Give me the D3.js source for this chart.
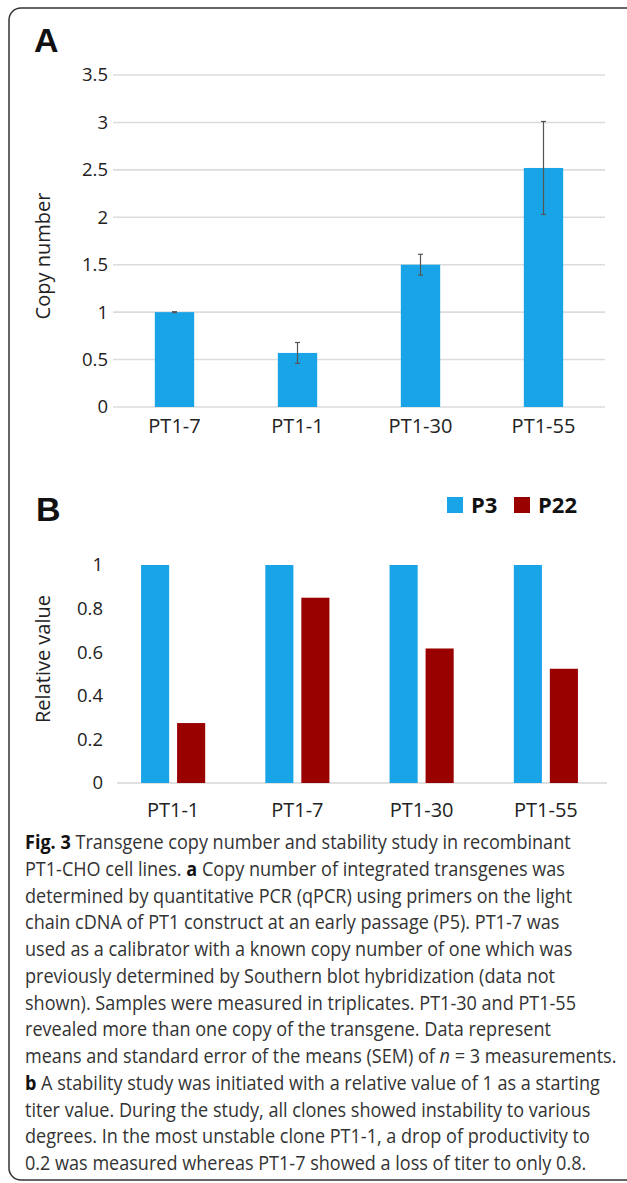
<!DOCTYPE html>
<html>
<head>
<meta charset="utf-8">
<script src="https://cdn.jsdelivr.net/npm/d3@7"></script>
<style>
  body { margin: 0; background: #fff; }
  text { font-family: "Open Sans", sans-serif; fill: #222; }
</style>
</head>
<body>
<svg id="fig"></svg>
<script>
// panel A data
const catsA = ["PT1-7", "PT1-1", "PT1-30", "PT1-55"];
const copyNumber = [1.0, 0.57, 1.5, 2.52];
const copyErr = [0.005, 0.11, 0.11, 0.49];
const ticksA = [0, 0.5, 1, 1.5, 2, 2.5, 3, 3.5];

// panel B data
const catsB = ["PT1-1", "PT1-7", "PT1-30", "PT1-55"];
const seriesB = ["P3", "P22"];
const p3 = [1, 1, 1, 1];
const p22 = [0.275, 0.85, 0.617, 0.524];
const ticksB = [0, 0.2, 0.4, 0.6, 0.8, 1];

const colors = { P3: "#19a4e8", P22: "#990000" };

const W = 627, H = 1183;
const svg = d3.select("#fig").attr("width", W).attr("height", H);

// frame
svg.append("rect")
  .attr("x", 9).attr("y", 8)
  .attr("width", W + 20).attr("height", 1172)
  .attr("rx", 12)
  .attr("fill", "none")
  .attr("stroke", "#333")
  .attr("stroke-width", 1.5);

// ---------- panel A ----------
svg.append("text")
  .attr("x", 34).attr("y", 52)
  .style("font-family", "Liberation Sans, Arial, sans-serif")
  .style("font-weight", "bold")
  .style("font-size", "34px")
  .style("fill", "#111")
  .text("A");

const xA = d3.scaleBand().domain(catsA).range([113, 605]).paddingInner(0.68).paddingOuter(0.34);
const yA = d3.scaleLinear().domain([0, 3.5]).range([407, 75]);

const gA = svg.append("g");

gA.append("g")
  .selectAll("line")
  .data(ticksA)
  .enter()
  .append("line")
  .attr("x1", 113).attr("x2", 605)
  .attr("y1", (d) => yA(d)).attr("y2", (d) => yA(d))
  .attr("stroke", "#dcdcdc")
  .attr("stroke-width", 1.6);

gA.append("g")
  .attr("transform", "translate(113,0)")
  .call(d3.axisLeft(yA).tickValues(ticksA).tickSize(0).tickPadding(5).tickFormat((d) => String(d)))
  .call((g) => g.select(".domain").remove())
  .selectAll("text")
  .style("font-size", "18.5px")
  .style("font-family", "Open Sans, sans-serif")
  .style("fill", "#222");

gA.append("g")
  .selectAll("rect")
  .data(catsA)
  .enter()
  .append("rect")
  .attr("x", (d) => xA(d))
  .attr("y", (d, i) => yA(copyNumber[i]))
  .attr("width", xA.bandwidth())
  .attr("height", (d, i) => yA(0) - yA(copyNumber[i]))
  .attr("fill", colors.P3);

// error bars
const eb = gA.append("g")
  .selectAll("g")
  .data(catsA)
  .enter()
  .append("g")
  .attr("stroke", "#555")
  .attr("stroke-width", 1.2);

eb.append("line")
  .attr("x1", (d) => xA(d) + xA.bandwidth() / 2)
  .attr("x2", (d) => xA(d) + xA.bandwidth() / 2)
  .attr("y1", (d, i) => yA(copyNumber[i] - copyErr[i]))
  .attr("y2", (d, i) => yA(copyNumber[i] + copyErr[i]));

[-1, 1].forEach((s) => {
  eb.append("line")
    .attr("x1", (d) => xA(d) + xA.bandwidth() / 2 - 2.5)
    .attr("x2", (d) => xA(d) + xA.bandwidth() / 2 + 2.5)
    .attr("y1", (d, i) => yA(copyNumber[i] + s * copyErr[i]))
    .attr("y2", (d, i) => yA(copyNumber[i] + s * copyErr[i]));
});

gA.append("g")
  .attr("transform", "translate(0,407)")
  .call(d3.axisBottom(xA).tickSize(0).tickPadding(12))
  .call((g) => g.select(".domain").remove())
  .selectAll("text")
  .style("font-size", "20px")
  .style("font-family", "Open Sans, sans-serif")
  .style("fill", "#222");

svg.append("text")
  .attr("transform", "translate(50,256) rotate(-90)")
  .attr("text-anchor", "middle")
  .style("font-size", "20px")
  .text("Copy number");

// ---------- panel B ----------
svg.append("text")
  .attr("x", 36).attr("y", 521)
  .style("font-family", "Liberation Sans, Arial, sans-serif")
  .style("font-weight", "bold")
  .style("font-size", "34px")
  .style("fill", "#111")
  .text("B");

const x0 = d3.scaleBand().domain(catsB).range([111, 608]).paddingInner(0.484).paddingOuter(0.242);
const x1 = d3.scaleBand().domain(seriesB).range([0, x0.bandwidth()]).paddingInner(0.22);
const yB = d3.scaleLinear().domain([0, 1]).range([783, 565]);

const gB = svg.append("g");

gB.append("line")
  .attr("x1", 117).attr("x2", 607)
  .attr("y1", yB(0)).attr("y2", yB(0))
  .attr("stroke", "#d6d6d6")
  .attr("stroke-width", 1.6);

gB.append("g")
  .attr("transform", "translate(108,0)")
  .call(d3.axisLeft(yB).tickValues(ticksB).tickSize(0).tickPadding(5).tickFormat((d) => String(d)))
  .call((g) => g.select(".domain").remove())
  .selectAll("text")
  .style("font-size", "18.5px")
  .style("font-family", "Open Sans, sans-serif")
  .style("fill", "#222");

const valuesB = { P3: p3, P22: p22 };

const groups = gB.selectAll(".grp")
  .data(catsB)
  .enter()
  .append("g")
  .attr("class", "grp")
  .attr("transform", (d) => `translate(${x0(d)},0)`);

groups.selectAll("rect")
  .data((d, i) => seriesB.map((s) => ({ key: s, value: valuesB[s][i] })))
  .enter()
  .append("rect")
  .attr("x", (d) => x1(d.key))
  .attr("y", (d) => yB(d.value))
  .attr("width", x1.bandwidth())
  .attr("height", (d) => yB(0) - yB(d.value))
  .attr("fill", (d) => colors[d.key]);

gB.append("g")
  .attr("transform", "translate(0,783)")
  .call(d3.axisBottom(x0).tickSize(0).tickPadding(20))
  .call((g) => g.select(".domain").remove())
  .selectAll("text")
  .style("font-size", "20px")
  .style("font-family", "Open Sans, sans-serif")
  .style("fill", "#222");

svg.append("text")
  .attr("transform", "translate(50,659) rotate(-90)")
  .attr("text-anchor", "middle")
  .style("font-size", "20px")
  .text("Relative value");

// legend
const legendX = [447, 514];
const legend = svg.selectAll(".legend")
  .data(seriesB)
  .enter()
  .append("g")
  .attr("class", "legend")
  .attr("transform", (d, i) => `translate(${legendX[i]},497)`);

legend.append("rect")
  .attr("width", 16).attr("height", 16)
  .attr("fill", (d) => colors[d]);

legend.append("text")
  .attr("x", 24).attr("y", 16)
  .style("font-size", "22px")
  .style("font-weight", "bold")
  .style("fill", "#111")
  .text((d) => d);

// ---------- caption ----------
const caption = [
  [["b", "Fig. 3"], ["", " Transgene copy number and stability study in recombinant"]],
  [["", "PT1-CHO cell lines. "], ["b", "a"], ["", " Copy number of integrated transgenes was"]],
  [["", "determined by quantitative PCR (qPCR) using primers on the light"]],
  [["", "chain cDNA of PT1 construct at an early passage (P5). PT1-7 was"]],
  [["", "used as a calibrator with a known copy number of one which was"]],
  [["", "previously determined by Southern blot hybridization (data not"]],
  [["", "shown). Samples were measured in triplicates. PT1-30 and PT1-55"]],
  [["", "revealed more than one copy of the transgene. Data represent"]],
  [["", "means and standard error of the means (SEM) of "], ["i", "n"], ["", " = 3 measurements."]],
  [["b", "b"], ["", " A stability study was initiated with a relative value of 1 as a starting"]],
  [["", "titer value. During the study, all clones showed instability to various"]],
  [["", "degrees. In the most unstable clone PT1-1, a drop of productivity to"]],
  [["", "0.2 was measured whereas PT1-7 showed a loss of titer to only 0.8."]]
];

const cap = svg.append("g").style("font-size", "19.5px");
const lines = cap.selectAll("text")
  .data(caption)
  .enter()
  .append("text")
  .style("fill", "#333");

lines.selectAll("tspan")
  .data((d) => d)
  .enter()
  .append("tspan")
  .style("font-weight", (d) => (d[0] === "b" ? "bold" : null))
  .style("font-style", (d) => (d[0] === "i" ? "italic" : null))
  .style("fill", (d) => (d[0] === "b" ? "#111" : null))
  .text((d) => d[1]);

// narrow the glyphs so the longest line spans the reference width
const k = 592 / d3.max(lines.nodes(), (n) => n.getComputedTextLength());
lines.attr("transform", (d, i) => `translate(25,${849 + i * 26.75}) scale(${k.toFixed(4)},1)`);
</script>
</body>
</html>
